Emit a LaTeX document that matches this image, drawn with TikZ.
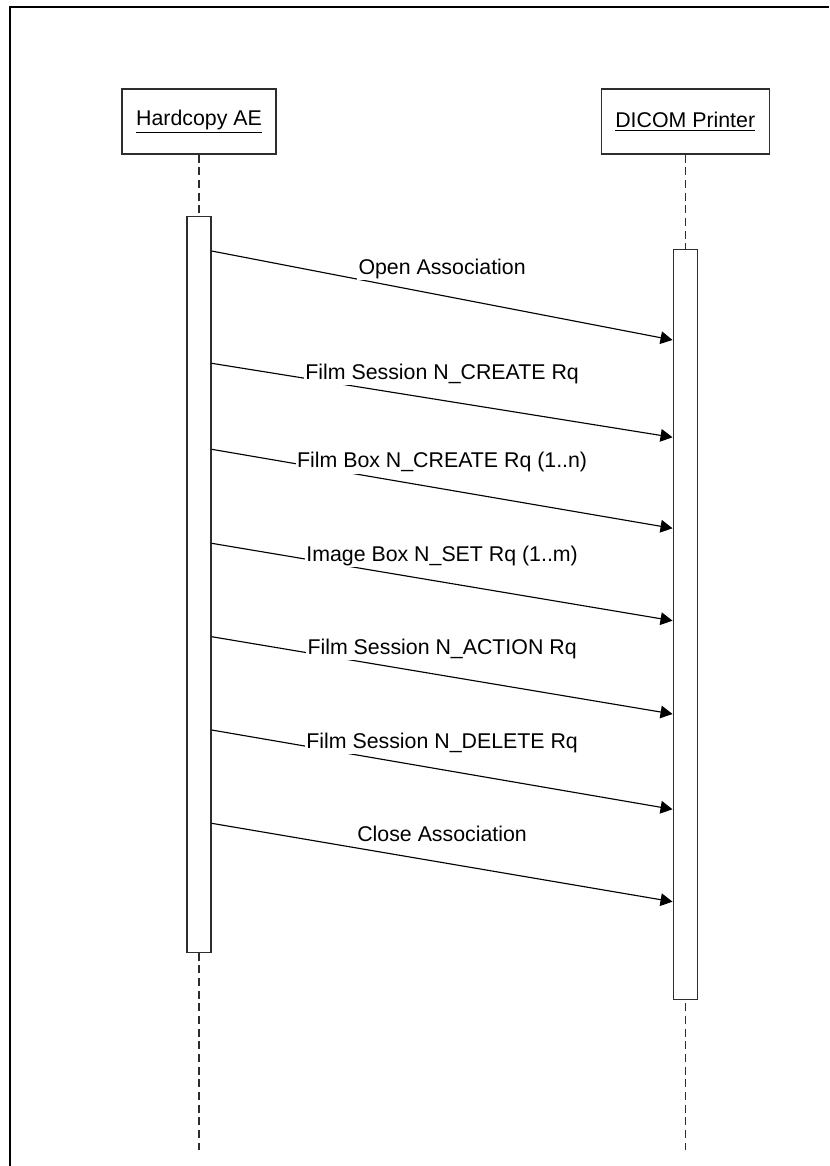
\documentclass[tikz,border=0pt]{standalone}
\usepackage{fontspec}
\setmainfont{Liberation Sans}
\usepackage{xcolor}
\usetikzlibrary{arrows.meta,positioning,calc}

\definecolor{boxgray}{RGB}{45,45,45}

\begin{document}
\begin{tikzpicture}[
        x=0.75pt, y=-0.75pt,
        >={Triangle[length=9pt,width=9.5pt]},
        every node/.style={font=\fontsize{16}{19}\selectfont},
        actor/.style={
            draw=boxgray,
            line width=1pt,
            minimum width=115.5pt,
            minimum height=48.75pt,
            inner sep=0pt
        },
        actbar/.style={
            draw=boxgray,
            line width=1pt,
            fill=white,
            minimum width=18pt,
            inner sep=0pt
        },
        lifeline/.style={draw=boxgray, line width=1pt, dash pattern=on 6pt off 3.5pt},
        msg/.style={->, line width=0.85pt},
        msglabel/.style={fill=white, inner sep=1pt, anchor=base, midway, yshift=15.75pt}
    ]

    \useasboundingbox (0,0) rectangle (829,1166);
    \draw[line width=1.6pt] (10,1166) |- (829,7);

    \node[actor] (hae) at (199,121.5) {\underline{Hardcopy AE}};
    \node[actor, minimum width=126pt] (printer) at (685.2,121.5) {\underline{DICOM Printer}};

    \coordinate (haeend) at (hae |- 0,1150);
    \coordinate (printerend) at (printer |- 0,1150);

    \draw[lifeline] (hae.south) -- (haeend);
    \draw[lifeline] (printer.south) -- (printerend);

    \node[actbar, minimum height=552pt, below=45.75pt of hae] (haebar) {};
    \node[actbar, minimum height=562.5pt, below=70.5pt of printer] (printerbar) {};

    % requests from the hardcopy AE to the printer
    \draw[msg] (haebar.east |- 0,251) -- (printerbar.west |- 0,340)
        node[msglabel] {Open Association};
    \draw[msg] (haebar.east |- 0,363.3) -- (printerbar.west |- 0,437.3)
        node[msglabel] {Film Session N\_CREATE Rq};
    \draw[msg] (haebar.east |- 0,449.3) -- (printerbar.west |- 0,528.3)
        node[msglabel] {Film Box N\_CREATE Rq (1..n)};
    \draw[msg] (haebar.east |- 0,543.3) -- (printerbar.west |- 0,620.7)
        node[msglabel] {Image Box N\_SET Rq (1..m)};
    \draw[msg] (haebar.east |- 0,636.7) -- (printerbar.west |- 0,714)
        node[msglabel] {Film Session N\_ACTION Rq};
    \draw[msg] (haebar.east |- 0,730) -- (printerbar.west |- 0,809.3)
        node[msglabel] {Film Session N\_DELETE Rq};
    \draw[msg] (haebar.east |- 0,823.3) -- (printerbar.west |- 0,901.7)
        node[msglabel] {Close Association};

\end{tikzpicture}
\end{document}
